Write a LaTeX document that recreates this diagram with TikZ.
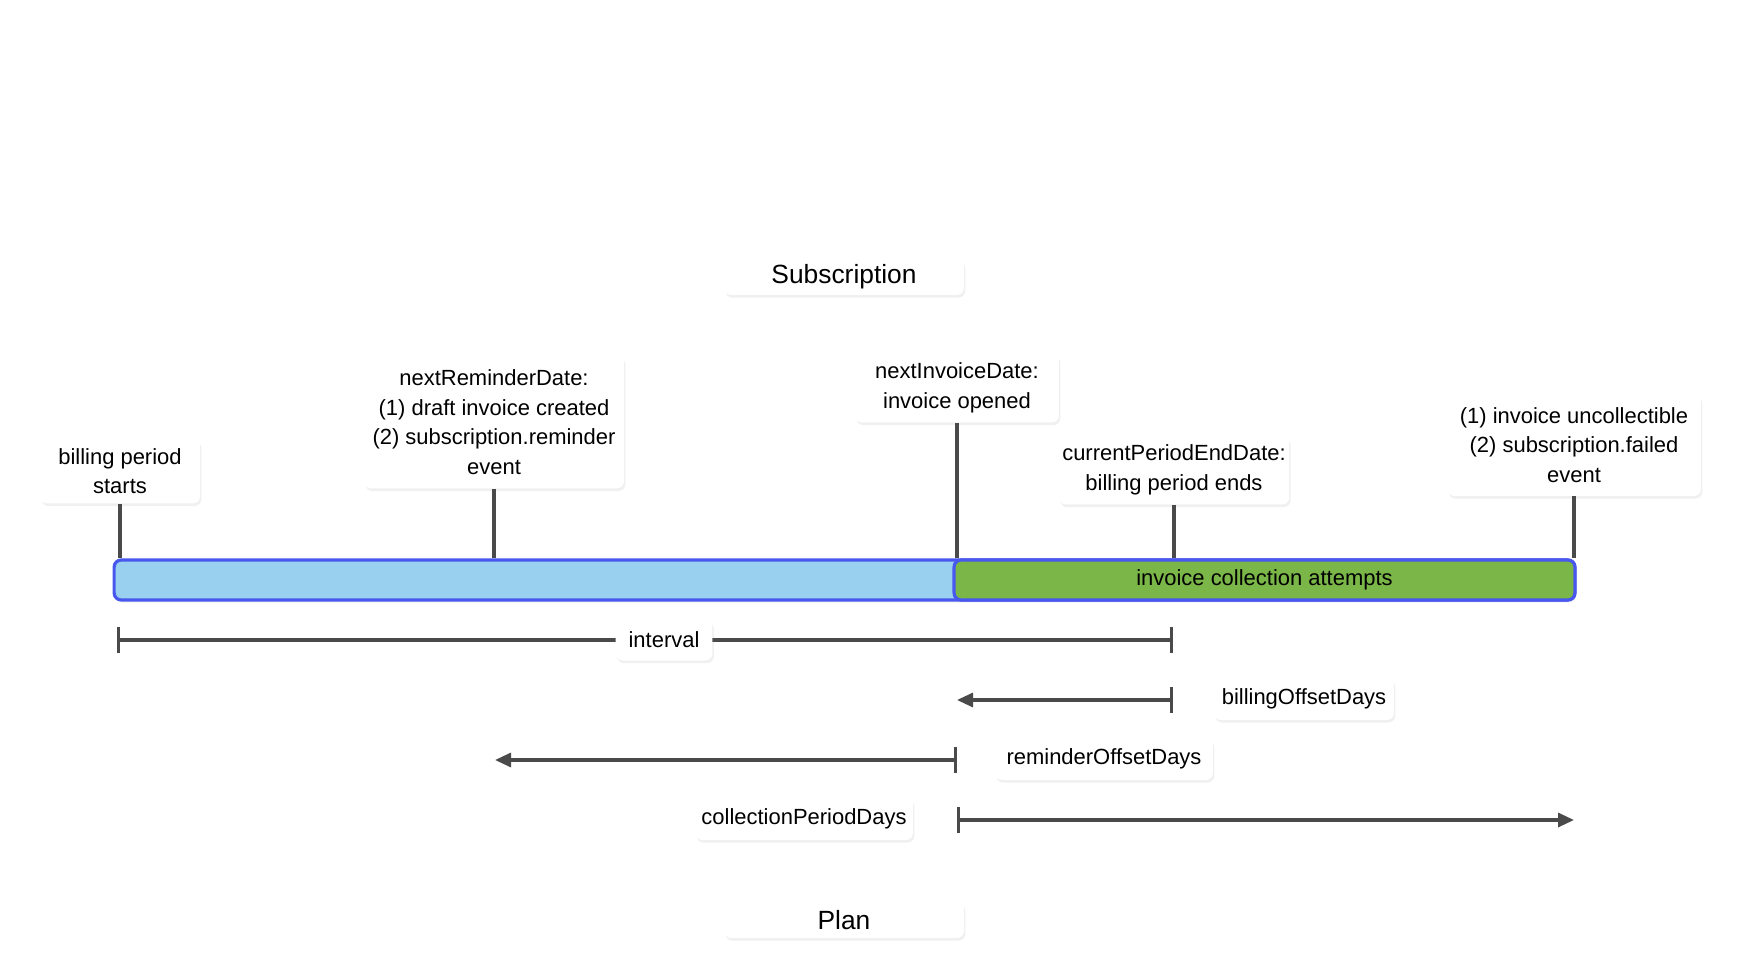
\documentclass[tikz,border=0pt]{standalone}
\usepackage{fontspec}
\setmainfont{Liberation Sans}
\usetikzlibrary{arrows.meta, positioning, shadows}
\definecolor{linegray}{RGB}{74,74,74}
\definecolor{periodblue}{RGB}{153,208,240}
\definecolor{borderblue}{RGB}{72,87,238}
\definecolor{collectgreen}{RGB}{122,182,72}

\begin{document}
\begin{tikzpicture}[
    x=0.02cm, y=-0.02cm,
    note/.style={fill=white, rounded corners=4pt, align=center, inner sep=2pt, font=\fontsize{12.5}{16.8}\selectfont, drop shadow={opacity=0.12, shadow xshift=0.8pt, shadow yshift=-1.5pt}},
    title/.style={note, font=\fontsize{15}{18}\selectfont, minimum width=4.8cm, minimum height=0.72cm},
    phasebar/.style={draw=borderblue, line width=1.8pt, rounded corners=4pt, minimum height=0.8cm, inner sep=0pt, font=\fontsize{12.5}{15}\selectfont},
    tickline/.style={draw=linegray, line width=1.8pt},
    span/.style={linegray, line width=1.8pt, {Bar[width=5.2mm]}-{Triangle[length=3.2mm, width=2.8mm]}}
]
    \useasboundingbox (0,0) rectangle (1742,980);

    % Titles
    \node[title] (subscription) at (844,277) {Subscription};
    \node[title] (plan) at (844,920) {Plan};

    % Billing period bar
    \node[phasebar, fill=periodblue, minimum width=29.22cm, drop shadow={opacity=0.1, shadow xshift=0.8pt, shadow yshift=-1.5pt}] (period) at (844.5,580) {};
    \node[phasebar, fill=collectgreen, minimum width=12.42cm] (collection) at (1264.5,580) {invoice collection attempts};

    % Events
    \node[note, minimum width=3.2cm, minimum height=1.3cm] (start) at (120,471) {billing period\\starts};
    \node[note, minimum width=5.2cm, minimum height=2.66cm] (reminder) at (494,422) {nextReminderDate:\\(1) draft invoice created\\(2) subscription.reminder\\event};
    \node[note, minimum width=4.08cm, minimum height=1.38cm] (invoice) at (957,388) {nextInvoiceDate:\\invoice opened};
    \node[note, minimum width=4.58cm, minimum height=1.38cm] (periodend) at (1174,470) {currentPeriodEndDate:\\billing period ends};
    \node[note, minimum width=5.08cm, minimum height=2.04cm] (failed) at (1574,445) {(1) invoice uncollectible\\(2) subscription.failed\\event};

    \draw[tickline] (start.south) -- (start.south |- period.north);
    \draw[tickline] (reminder.south) -- (reminder.south |- period.north);
    \draw[tickline] (invoice.south) -- (invoice.south |- period.north);
    \draw[tickline] (periodend.south) -- (periodend.south |- period.north);
    \draw[tickline] (failed.south) -- (failed.south |- period.north);

    % Plan settings
    \coordinate (intervalstart) at (117,640);
    \coordinate (intervalend) at (1173,640);
    \coordinate (billingstart) at (1173,700);
    \coordinate (billingend) at (957,700);
    \coordinate (reminderstart) at (957,760);
    \coordinate (reminderend) at (495,760);
    \coordinate (collectstart) at (957,820);
    \coordinate (collectend) at (1574,820);

    \draw[linegray, line width=1.8pt, {Bar[width=5.2mm]}-{Bar[width=5.2mm]}] (intervalstart) -- (intervalend);
    \draw[span] (billingstart) -- (billingend);
    \draw[span] (reminderstart) -- (reminderend);
    \draw[span] (collectstart) -- (collectend);

    \node[note, minimum width=1.94cm, minimum height=0.82cm] (interval) at (664,640) {interval};
    \node[note, minimum width=3.6cm, minimum height=0.84cm] (billingoffset) at (1304,699) {billingOffsetDays};
    \node[note, minimum width=4.36cm, minimum height=0.84cm] (reminderoffset) at (1104,759) {reminderOffsetDays};
    \node[note, minimum width=4.36cm, minimum height=0.84cm] (collectperiod) at (804,819) {collectionPeriodDays};
\end{tikzpicture}
\end{document}
